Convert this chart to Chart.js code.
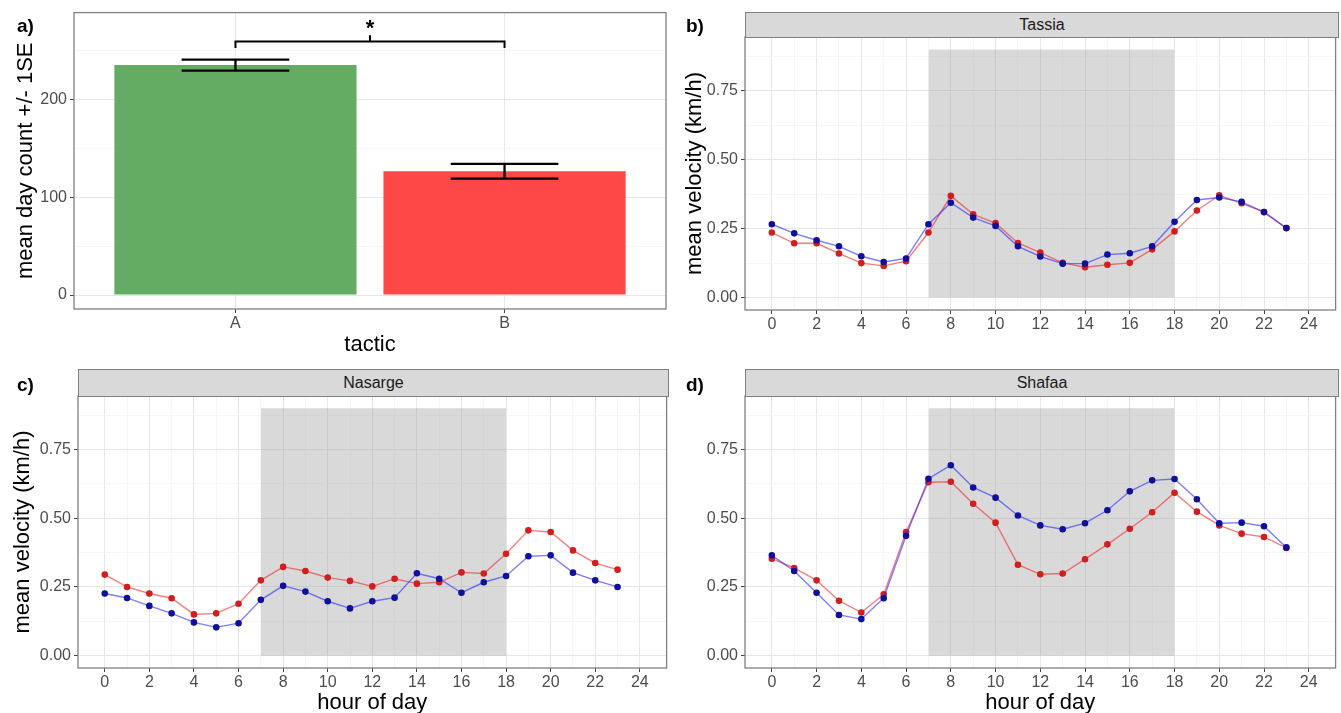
<!DOCTYPE html>
<html>
<head>
<meta charset="utf-8">
<script src="https://cdn.jsdelivr.net/npm/chart.js@4.4.1/dist/chart.umd.min.js"></script>
<style>
  body { margin: 0; background: #fff; width: 1341px; height: 713px; overflow: hidden; position: relative;
         font-family: "Liberation Sans", Arial, sans-serif; }
  canvas { position: absolute; }
  .strip { position: absolute; box-sizing: border-box; background: #d9d9d9; border: 1px solid #808080;
           text-align: center; font-size: 16px; color: #1a1a1a; }
  .tag { position: absolute; font-weight: bold; font-size: 19px; line-height: 1; color: #000; }
</style>
</head>
<body>
<canvas id="panelA" width="672" height="358" style="left:0;top:0"></canvas>
<canvas id="panelB" width="669" height="358" style="left:672px;top:0"></canvas>
<canvas id="panelC" width="672" height="355" style="left:0;top:358px"></canvas>
<canvas id="panelD" width="669" height="355" style="left:672px;top:358px"></canvas>

<div class="strip" style="left:745px;top:12px;width:594px;height:26px;line-height:24px">Tassia</div>
<div class="strip" style="left:78px;top:369px;width:591px;height:28px;line-height:26px">Nasarge</div>
<div class="strip" style="left:745px;top:369px;width:594px;height:28px;line-height:26px">Shafaa</div>

<div class="tag" style="left:17px;top:16px">a)</div>
<div class="tag" style="left:686px;top:16px">b)</div>
<div class="tag" style="left:17px;top:375px">c)</div>
<div class="tag" style="left:686px;top:375px">d)</div>

<script>
// panel a: mean day count per tactic
const tactics = ['A', 'B'];
const dayCountMean = [235, 126.5];
const dayCountSE = [5.6, 7.5];
const tacticColors = ['#64ac64', '#fe4848'];
const countTicks = [0, 100, 200];
const countGrid = [0, 50, 100, 150, 200, 250];
const sigLabel = '*';

// panels b-d: hourly mean velocity
const hours = [0, 1, 2, 3, 4, 5, 6, 7, 8, 9, 10, 11, 12, 13, 14, 15, 16, 17, 18, 19, 20, 21, 22, 23];
const hourTicks = [0, 2, 4, 6, 8, 10, 12, 14, 16, 18, 20, 22, 24];
const hourGrid = [0, 1, 2, 3, 4, 5, 6, 7, 8, 9, 10, 11, 12, 13, 14, 15, 16, 17, 18, 19, 20, 21, 22, 23, 24];
const velocityTicks = [0, 0.25, 0.5, 0.75];
const velocityGrid = [0, 0.125, 0.25, 0.375, 0.5, 0.625, 0.75, 0.875];
const daytime = [7, 18];
const daytimeTop = 0.9;

const tassiaRed  = [0.236, 0.197, 0.197, 0.160, 0.125, 0.115, 0.132, 0.236, 0.369, 0.302, 0.270, 0.198,
                    0.163, 0.126, 0.110, 0.119, 0.126, 0.175, 0.240, 0.316, 0.371, 0.342, 0.310, 0.252];
const tassiaBlue = [0.266, 0.233, 0.208, 0.186, 0.150, 0.129, 0.142, 0.266, 0.344, 0.290, 0.260, 0.186,
                    0.149, 0.123, 0.123, 0.156, 0.161, 0.186, 0.275, 0.354, 0.363, 0.347, 0.310, 0.252];
const nasargeRed  = [0.295, 0.250, 0.226, 0.209, 0.150, 0.154, 0.189, 0.274, 0.323, 0.308, 0.284, 0.272,
                     0.252, 0.280, 0.262, 0.267, 0.303, 0.299, 0.371, 0.456, 0.450, 0.383, 0.337, 0.313];
const nasargeBlue = [0.226, 0.210, 0.181, 0.154, 0.121, 0.103, 0.118, 0.203, 0.254, 0.233, 0.198, 0.172,
                     0.198, 0.211, 0.300, 0.280, 0.229, 0.267, 0.290, 0.362, 0.365, 0.302, 0.274, 0.250];
const shafaaRed  = [0.353, 0.319, 0.274, 0.200, 0.157, 0.223, 0.450, 0.631, 0.633, 0.553, 0.484, 0.331,
                    0.296, 0.299, 0.351, 0.405, 0.462, 0.522, 0.593, 0.524, 0.474, 0.444, 0.432, 0.392];
const shafaaBlue = [0.365, 0.308, 0.229, 0.148, 0.133, 0.209, 0.436, 0.644, 0.693, 0.612, 0.575, 0.510,
                    0.474, 0.460, 0.482, 0.529, 0.598, 0.638, 0.643, 0.569, 0.482, 0.484, 0.471, 0.394];

Chart.defaults.font.family = '"Liberation Sans", Arial, sans-serif';
Chart.defaults.color = '#4d4d4d';
Chart.defaults.animation = false;
Chart.defaults.responsive = false;
Chart.defaults.plugins.legend.display = false;
Chart.defaults.plugins.tooltip.enabled = false;

const GRID_MAJOR = '#e6e6e6';
const GRID_MINOR = '#f2f2f2';

// panel border, like theme_bw
const frame = {
  id: 'frame',
  afterDatasetsDraw(chart) {
    const { ctx, chartArea: a } = chart;
    ctx.save();
    ctx.strokeStyle = '#808080';
    ctx.lineWidth = 1.3;
    ctx.strokeRect(a.left, a.top, a.right - a.left, a.bottom - a.top);
    ctx.restore();
  }
};

function gridFor(majors) {
  return {
    color: c => majors.includes(c.tick.value) ? GRID_MAJOR : GRID_MINOR,
    lineWidth: c => majors.includes(c.tick.value) ? 1 : 0.7,
    tickColor: c => majors.includes(c.tick.value) ? '#444' : 'rgba(0,0,0,0)',
    tickLength: 4,
    offset: false
  };
}

const titleFont = { size: 22, lineHeight: 1 };
const tickFont = { size: 16 };

// ---- panel a ----
const sigText = {
  id: 'sigText',
  afterDatasetsDraw(chart) {
    const { ctx, scales } = chart;
    ctx.save();
    ctx.fillStyle = '#000';
    ctx.font = 'bold 22px "Liberation Sans", Arial, sans-serif';
    ctx.textAlign = 'center';
    ctx.textBaseline = 'middle';
    ctx.fillText(sigLabel, scales.x.getPixelForValue(1.5), scales.y.getPixelForValue(272));
    ctx.restore();
  }
};

const errorBars = [];
tactics.forEach((t, i) => {
  const x = i + 1, hi = dayCountMean[i] + dayCountSE[i], lo = dayCountMean[i] - dayCountSE[i];
  errorBars.push({ x: x - 0.2, y: hi }, { x: x + 0.2, y: hi }, { x: x + 0.2, y: null },
                 { x: x, y: hi }, { x: x, y: lo }, { x: x, y: null },
                 { x: x - 0.2, y: lo }, { x: x + 0.2, y: lo }, { x: x + 0.2, y: null });
});
const bracket = [
  { x: 1, y: 252.3 }, { x: 1, y: 259.1 }, { x: 1.5, y: 259.1 }, { x: 1.5, y: 265.5 },
  { x: 1.5, y: 259.1 }, { x: 2, y: 259.1 }, { x: 2, y: 252.3 }
];

new Chart(document.getElementById('panelA'), {
  type: 'bar',
  data: {
    datasets: [
      { type: 'line', data: errorBars, borderColor: '#000', borderWidth: 2.3, pointRadius: 0,
        spanGaps: false, order: 0 },
      { type: 'line', data: bracket, borderColor: '#000', borderWidth: 2, pointRadius: 0, order: 0 },
      { type: 'bar', data: tactics.map((t, i) => ({ x: i + 1, y: dayCountMean[i] })),
        backgroundColor: tacticColors, barPercentage: 0.9, categoryPercentage: 1, order: 2 }
    ]
  },
  options: {
    layout: { padding: { top: 12, right: 6, left: 0, bottom: 0 } },
    scales: {
      x: {
        type: 'linear', min: 0.4, max: 2.6, offset: false,
        afterBuildTicks: s => { s.ticks = tactics.map((t, i) => ({ value: i + 1 })); },
        afterFit: s => { s.height = 49; },
        grid: gridFor([1, 2]),
        border: { display: false },
        ticks: { font: tickFont, padding: 1, autoSkip: false, maxRotation: 0,
                 callback: v => tactics[v - 1] },
        title: { display: true, text: 'tactic', color: '#000', font: titleFont,
                 padding: { top: 0, bottom: 2 } }
      },
      y: {
        min: -14.3, max: 288.6,
        afterBuildTicks: s => { s.ticks = countGrid.map(v => ({ value: v })); },
        afterFit: s => { s.width = 74; },
        grid: gridFor(countTicks),
        border: { display: false },
        ticks: { font: tickFont, padding: 3, autoSkip: false,
                 callback: v => countTicks.includes(v) ? String(v) : '' },
        title: { display: true, text: 'mean day count +/- 1SE', color: '#000', font: titleFont,
                 padding: { top: 15, bottom: 0 } }
      }
    }
  },
  plugins: [frame, sigText]
});

// ---- panels b-d ----
function velocityChart(id, red, blue, box) {
  const pts = vals => hours.map((h, i) => ({ x: h, y: vals[i] }));
  return new Chart(document.getElementById(id), {
    type: 'line',
    data: {
      datasets: [
        { data: pts(blue), borderColor: 'rgba(40,40,255,0.6)', backgroundColor: '#10109a',
          pointBorderColor: '#10109a', borderWidth: 1.4, pointRadius: 2.6, order: 0 },
        { data: pts(red), borderColor: 'rgba(240,40,40,0.6)', backgroundColor: '#d21e1e',
          pointBorderColor: '#d21e1e', borderWidth: 1.4, pointRadius: 2.6, order: 1 },
        { data: daytime.map(h => ({ x: h, y: daytimeTop })), fill: 'origin',
          backgroundColor: 'rgba(165,165,165,0.42)', borderWidth: 0, pointRadius: 0, order: 2 }
      ]
    },
    options: {
      layout: { padding: { top: box.top, right: box.right, left: 0, bottom: 0 } },
      scales: {
        x: {
          type: 'linear', min: -1.2, max: 25.2,
          afterBuildTicks: s => { s.ticks = hourGrid.map(v => ({ value: v })); },
          afterFit: s => { s.height = box.xHeight; },
          grid: gridFor(hourTicks),
          border: { display: false },
          ticks: { font: tickFont, padding: 1, autoSkip: false, maxRotation: 0,
                   callback: v => hourTicks.includes(v) ? String(v) : '' },
          title: { display: box.xTitle, text: 'hour of day', color: '#000',
                   font: { size: 22, lineHeight: 0.9 }, padding: { top: 0, bottom: 0 } }
        },
        y: {
          min: -0.045, max: 0.945,
          afterBuildTicks: s => { s.ticks = velocityGrid.map(v => ({ value: v })); },
          afterFit: s => { s.width = box.yWidth; },
          grid: gridFor(velocityTicks),
          border: { display: false },
          ticks: { font: tickFont, padding: 3, autoSkip: false,
                   callback: v => velocityTicks.includes(v) ? v.toFixed(2) : '' },
          title: { display: box.yTitle, text: 'mean velocity (km/h)', color: '#000', font: titleFont,
                   padding: { top: 12, bottom: 0 } }
        }
      }
    },
    plugins: [frame]
  });
}

velocityChart('panelB', tassiaRed, tassiaBlue,
  { top: 37, right: 3, yWidth: 73, xHeight: 48, xTitle: false, yTitle: true });
velocityChart('panelC', nasargeRed, nasargeBlue,
  { top: 38, right: 4, yWidth: 78, xHeight: 45, xTitle: true, yTitle: true });
velocityChart('panelD', shafaaRed, shafaaBlue,
  { top: 38, right: 3, yWidth: 73, xHeight: 45, xTitle: true, yTitle: false });
</script>
</body>
</html>
